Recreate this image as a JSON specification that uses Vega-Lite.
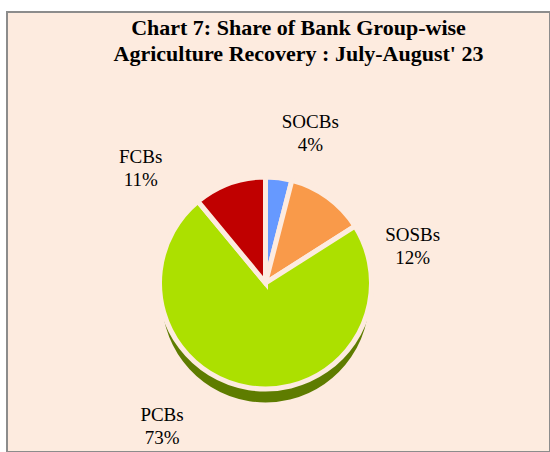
{
  "$schema": "https://vega.github.io/schema/vega-lite/v6.json",
  "width": 543,
  "height": 440,
  "padding": {"top": 12, "left": 7, "right": 0, "bottom": 0},
  "background": "white",
  "view": {"fill": "#FDEBDF", "stroke": "#8C8C8C", "strokeWidth": 2},
  "title": {
    "text": ["Chart 7: Share of Bank Group-wise", "Agriculture Recovery : July-August' 23"],
    "font": "Liberation Serif",
    "fontSize": 22,
    "fontWeight": "bold",
    "color": "black",
    "offset": -54,
    "dx": 20,
    "lineHeight": 26
  },
  "data": {
    "values": [
      {"group": "SOCBs", "share": 4, "order": 1, "label": "SOCBs\n4%"},
      {"group": "SOSBs", "share": 12, "order": 2, "label": "SOSBs\n12%"},
      {"group": "PCBs", "share": 73, "order": 3, "label": "PCBs\n73%"},
      {"group": "FCBs", "share": 11, "order": 4, "label": "FCBs\n11%"}
    ]
  },
  "encoding": {
    "theta": {"field": "share", "type": "quantitative", "stack": true},
    "order": {"field": "order", "type": "quantitative"}
  },
  "layer": [
    {
      "mark": {"type": "arc", "outerRadius": 106, "xOffset": -13, "yOffset": 67, "stroke": "#FDEBDF", "strokeWidth": 5},
      "encoding": {
        "color": {
          "field": "group", "type": "nominal", "legend": null,
          "scale": {"domain": ["SOCBs", "SOSBs", "PCBs", "FCBs"], "range": ["#4F7FD8", "#8E5A2C", "#5E7C00", "#500000"]}
        }
      }
    },
    {
      "mark": {"type": "arc", "outerRadius": 106, "xOffset": -13, "yOffset": 51, "stroke": "#FDEBDF", "strokeWidth": 5},
      "encoding": {
        "fill": {
          "field": "group", "type": "nominal", "legend": null,
          "scale": {"domain": ["SOCBs", "SOSBs", "PCBs", "FCBs"], "range": ["#6699FF", "#F99A4A", "#ACE000", "#C00000"]}
        }
      }
    },
    {
      "mark": {"type": "text", "radius": 150, "xOffset": -13, "yOffset": 53, "dx": 26, "dy": -14, "font": "Liberation Serif", "fontSize": 19, "color": "black", "lineBreak": "\n", "lineHeight": 23},
      "encoding": {"text": {"condition": {"test": "datum.group === 'SOCBs'", "field": "label"}, "value": ""}}
    },
    {
      "mark": {"type": "text", "radius": 150, "xOffset": -13, "yOffset": 53, "dx": 59, "dy": 71, "font": "Liberation Serif", "fontSize": 19, "color": "black", "lineBreak": "\n", "lineHeight": 23},
      "encoding": {"text": {"condition": {"test": "datum.group === 'SOSBs'", "field": "label"}, "value": ""}}
    },
    {
      "mark": {"type": "text", "radius": 150, "xOffset": -13, "yOffset": 53, "dx": -80, "dy": -18, "font": "Liberation Serif", "fontSize": 19, "color": "black", "lineBreak": "\n", "lineHeight": 23},
      "encoding": {"text": {"condition": {"test": "datum.group === 'PCBs'", "field": "label"}, "value": ""}}
    },
    {
      "mark": {"type": "text", "radius": 150, "xOffset": -13, "yOffset": 53, "dx": -74, "dy": 13, "font": "Liberation Serif", "fontSize": 19, "color": "black", "lineBreak": "\n", "lineHeight": 23},
      "encoding": {"text": {"condition": {"test": "datum.group === 'FCBs'", "field": "label"}, "value": ""}}
    }
  ]
}
